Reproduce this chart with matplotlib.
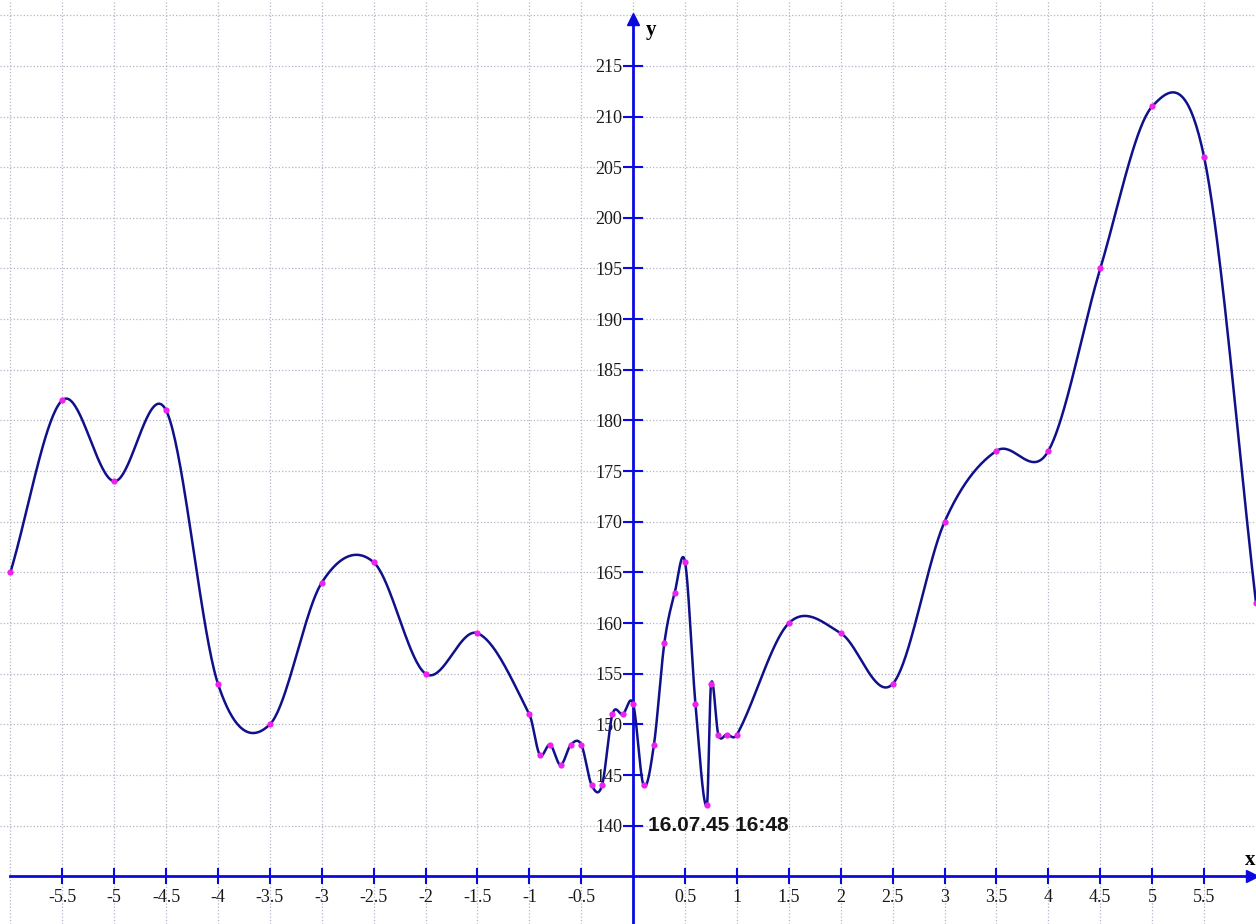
import numpy as np
import matplotlib
matplotlib.use('Agg')
import matplotlib.pyplot as plt

# data points
x_pts = [-6, -5.5, -5, -4.5, -4, -3.5, -3, -2.5, -2, -1.5, -1,
         -0.9, -0.8, -0.7, -0.6, -0.5, -0.4, -0.3, -0.2, -0.1, 0,
         0.1, 0.2, 0.3, 0.4, 0.5, 0.6, 0.71, 0.75, 0.82, 0.9, 1.0,
         1.5, 2, 2.5, 3, 3.5, 4, 4.5, 5, 5.5, 6]
y_pts = [165, 182, 174, 181, 154, 150, 164, 166, 155, 159, 151,
         147, 148, 146, 148, 148, 144, 144, 151, 151, 152,
         144, 148, 158, 163, 166, 152, 142, 154, 149, 149, 149,
         160, 159, 154, 170, 177, 177, 195, 211, 206, 162]

x_ticks = [-5.5, -5, -4.5, -4, -3.5, -3, -2.5, -2, -1.5, -1, -0.5,
           0.5, 1, 1.5, 2, 2.5, 3, 3.5, 4, 4.5, 5, 5.5]
y_ticks = [140, 145, 150, 155, 160, 165, 170, 175, 180, 185, 190,
           195, 200, 205, 210, 215]
stamp = '16.07.45 16:48'

AXIS = '#0a0ae0'
CURVE = '#10108a'
DOT = '#ee22ee'
GRID = '#b4b4c8'


def smooth_curve(x, y, n=40):
    # cubic hermite through the points, catmull-rom style tangents
    x = np.asarray(x, float)
    y = np.asarray(y, float)
    m = np.empty_like(y)
    m[1:-1] = (y[2:] - y[:-2]) / (x[2:] - x[:-2])
    m[0] = (y[1] - y[0]) / (x[1] - x[0])
    m[-1] = (y[-1] - y[-2]) / (x[-1] - x[-2])
    xs, ys = [], []
    for i in range(len(x) - 1):
        h = x[i + 1] - x[i]
        t = np.linspace(0, 1, n, endpoint=False)
        h00 = 2 * t**3 - 3 * t**2 + 1
        h10 = t**3 - 2 * t**2 + t
        h01 = -2 * t**3 + 3 * t**2
        h11 = t**3 - t**2
        xs.append(x[i] + h * t)
        ys.append(h00 * y[i] + h10 * h * m[i] + h01 * y[i + 1] + h11 * h * m[i + 1])
    xs.append([x[-1]])
    ys.append([y[-1]])
    return np.concatenate(xs), np.concatenate(ys)


fig = plt.figure(figsize=(12.56, 9.24), dpi=100)
ax = fig.add_axes([0, 0, 1, 1])
ax.set_xlim(-6.1, 6.0)
ax.set_ylim(130.3, 221.5)

# dotted grid
for gx in np.arange(-6, 6, 0.5):
    ax.axvline(gx, color=GRID, lw=0.9, ls=':', zorder=0)
for gy in range(140, 225, 5):
    ax.axhline(gy, color=GRID, lw=0.9, ls=':', zorder=0)

cx, cy = smooth_curve(x_pts, y_pts)
ax.plot(cx, cy, color=CURVE, lw=1.8, zorder=3)
ax.plot(x_pts, y_pts, 'o', color=DOT, ms=4.5, mec='none', zorder=4)

# axes through origin
for s in ['top', 'right']:
    ax.spines[s].set_visible(False)
ax.spines['left'].set_position(('data', 0))
ax.spines['bottom'].set_position(('data', 135))
ax.spines['left'].set_bounds(130.3, 219.5)
ax.spines['bottom'].set_bounds(-6.0, 5.95)
for s in ['left', 'bottom']:
    ax.spines[s].set_color(AXIS)
    ax.spines[s].set_linewidth(2)
ax.plot(0, 219.6, marker='^', ms=9, color=AXIS, clip_on=False, zorder=5)
ax.plot(5.96, 135, marker='>', ms=9, color=AXIS, clip_on=False, zorder=5)

ax.set_xticks(x_ticks)
ax.set_xticklabels(['%g' % v for v in x_ticks])
ax.set_yticks(y_ticks)
ax.set_yticklabels([str(v) for v in y_ticks])
ax.tick_params(direction='inout', width=1.5, color=AXIS,
               labelsize=13, labelcolor='#1a1a1a')
ax.tick_params(axis='x', length=12, pad=3)
ax.tick_params(axis='y', length=14, pad=1)
for lab in ax.get_xticklabels() + ax.get_yticklabels():
    lab.set_family('Liberation Serif')

ax.text(0.125, 218.0, 'y', fontsize=15, fontweight='bold',
        family='Liberation Serif', va='baseline', ha='left')
ax.text(5.99, 136.1, 'x', fontsize=15, fontweight='bold',
        family='Liberation Serif', va='baseline', ha='right')
ax.text(0.14, 140, stamp, fontsize=15, fontweight='bold',
        family='Liberation Sans', va='center', ha='left', color='#151515')

fig.savefig('out.png', dpi=100)
